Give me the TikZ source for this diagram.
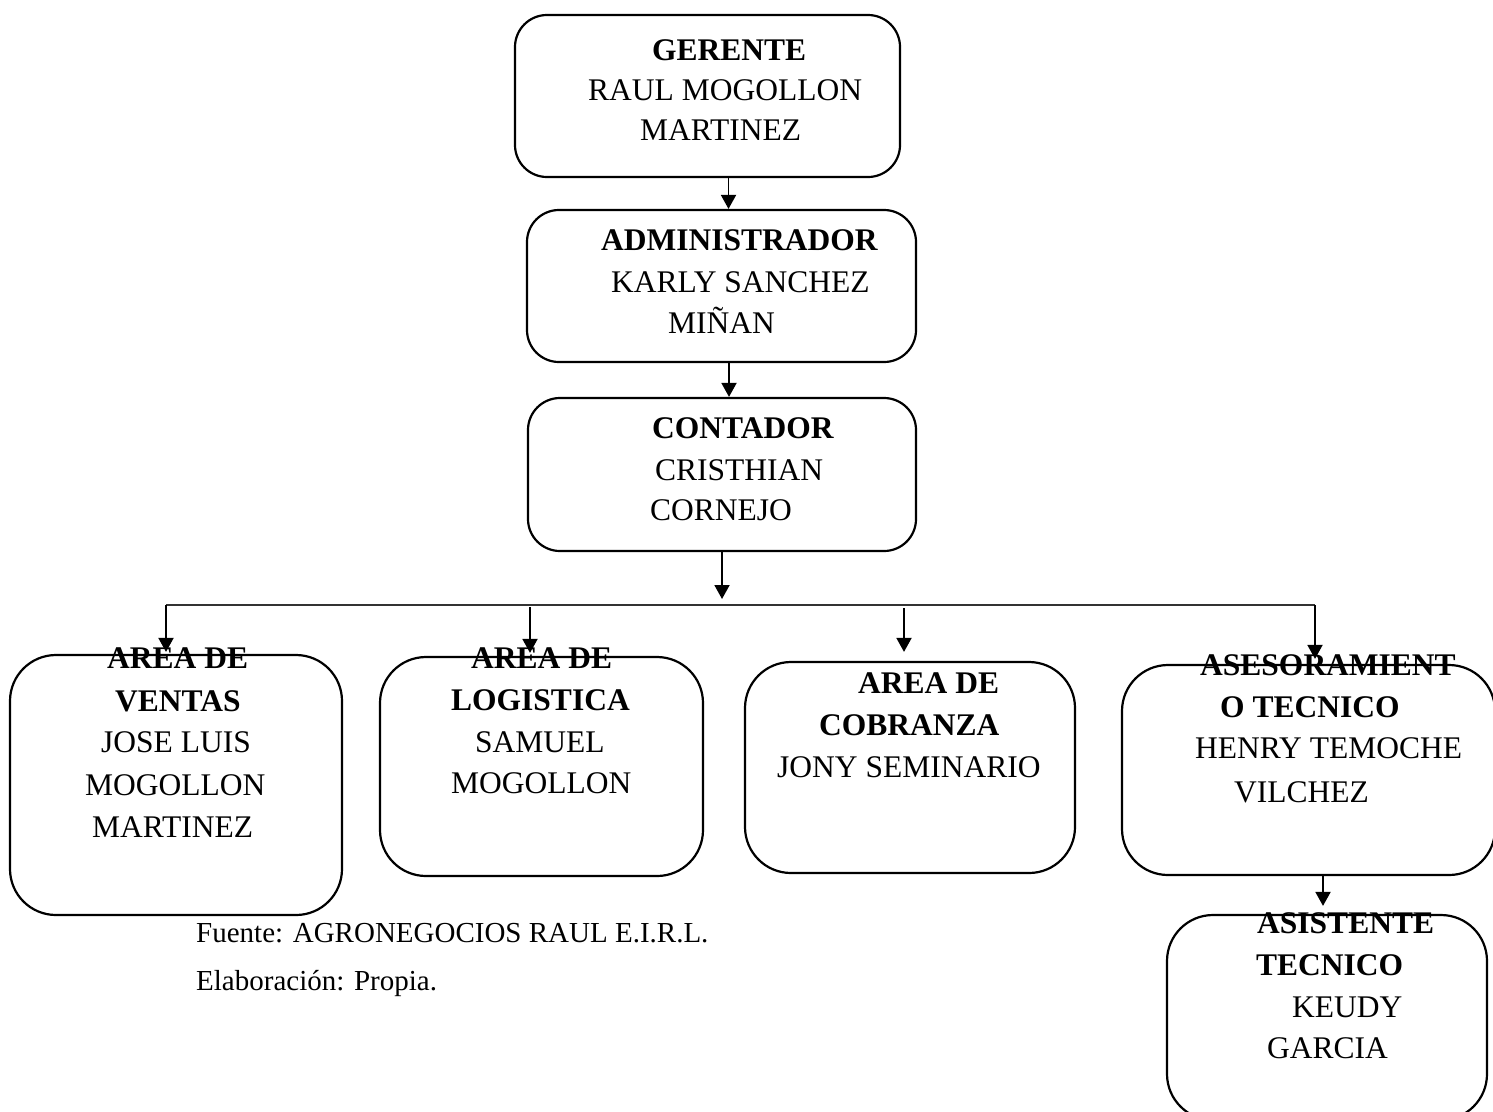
\documentclass[tikz,border=0pt]{standalone}
\usepackage{fontspec}
\setmainfont{Liberation Serif}
\usetikzlibrary{arrows.meta,positioning,calc}
\tikzset{>={Triangle[length=14pt,width=15pt]}}

\begin{document}
\begin{tikzpicture}[x=1pt,y=-1pt,
  box/.style={draw, line width=2.2pt, rounded corners=32pt},
  bigbox/.style={box, rounded corners=46pt},
  txt/.style={anchor=base west, inner sep=0pt, font=\fontsize{31.5}{40}\selectfont},
  head/.style={txt, font=\fontsize{31.5}{40}\selectfont\bfseries},
  note/.style={anchor=base west, inner sep=0pt, font=\fontsize{29}{35}\selectfont},
  arr/.style={->, line width=1.9pt},
  bus/.style={line width=1.5pt, draw=black!80}]
\useasboundingbox (0,0) rectangle (1493,1111);

% boxes
\node[box, minimum width=385pt, minimum height=162pt] (ger) at (707.5,96) {};
\node[box, minimum width=389pt, minimum height=152pt] (adm) at (721.5,286) {};
\node[box, minimum width=388pt, minimum height=153pt] (con) at (722,474.5) {};
\node[bigbox, minimum width=332pt, minimum height=260pt] (ven) at (176,785) {};
\node[bigbox, minimum width=323pt, minimum height=219pt] (log) at (541.5,766.5) {};
\node[bigbox, minimum width=330pt, minimum height=211pt] (cob) at (910,767.5) {};
\node[bigbox, minimum width=373pt, minimum height=210pt] (ase) at (1308.5,770) {};
\node[bigbox, minimum width=320pt, minimum height=205pt] (asi) at (1327,1017.5) {};

% texts
\node[head] (ger1) at (652,60) {GERENTE};
\node[txt]  (ger2) at (588,100) {RAUL MOGOLLON};
\node[txt]  (ger3) at (640,140) {MARTINEZ};
\node[head] (adm1) at (601,250) {ADMINISTRADOR};
\node[txt]  (adm2) at (611,292) {KARLY SANCHEZ};
\node[txt]  (adm3) at (668,333) {MIÑAN};
\node[head] (con1) at (652,438) {CONTADOR};
\node[txt]  (con2) at (655,480) {CRISTHIAN};
\node[txt]  (con3) at (650,520) {CORNEJO};

\node[head] (ven1) at (107,668) {AREA DE};
\node[head] (ven2) at (115,711) {VENTAS};
\node[txt]  (ven3) at (101,752) {JOSE LUIS};
\node[txt]  (ven4) at (85,795) {MOGOLLON};
\node[txt]  (ven5) at (92,837) {MARTINEZ};
\node[head] (log1) at (471,668) {AREA DE};
\node[head] (log2) at (451,710) {LOGISTICA};
\node[txt]  (log3) at (475,752) {SAMUEL};
\node[txt]  (log4) at (451,793) {MOGOLLON};
\node[head] (cob1) at (858,693) {AREA DE};
\node[head] (cob2) at (819,735) {COBRANZA};
\node[txt]  (cob3) at (777,777) {JONY SEMINARIO};
\node[head] (ase1) at (1200,675) {ASESORAMIENT};
\node[head] (ase2) at (1220,717) {O TECNICO};
\node[txt]  (ase3) at (1195,758) {HENRY TEMOCHE};
\node[txt]  (ase4) at (1234,802) {VILCHEZ};
\node[head] (asi1) at (1257,933) {ASISTENTE};
\node[head] (asi2) at (1256,975) {TECNICO};
\node[txt]  (asi3) at (1292,1017) {KEUDY};
\node[txt]  (asi4) at (1267,1058) {GARCIA};

\node[note] (src) at (196,942) {Fuente: AGRONEGOCIOS RAUL E.I.R.L.};
\node[note] (elab) at (196,990) {Elaboración: Propia.};

% connectors
\coordinate (bus) at (722,605);
\coordinate (tapV) at (166,605);
\coordinate (tapL) at (530,607);
\coordinate (tapC) at (904,608);
\coordinate (tapA) at (1315,605);
\draw[arr] ([xshift=21pt]ger.south) -- ([xshift=7pt]adm.north);
\draw[arr] ([xshift=7.5pt]adm.south) -- ([xshift=7pt]con.north);
\draw[arr, shorten >=6pt] (con.south) -- (bus);
\draw[bus] (tapV) -- (tapA);
\draw[arr, shorten >=2pt] (tapV) -- (tapV |- ven.north);
\draw[arr, shorten >=3pt] (tapL) -- (tapL |- log.north);
\draw[arr, shorten >=9pt] (tapC) -- (tapC |- cob.north);
\draw[arr, shorten >=5pt] (tapA) -- (tapA |- ase.north);
\draw[arr, shorten >=8pt] ([xshift=14.5pt]ase.south) -- ([xshift=-4pt]asi.north);
\end{tikzpicture}
\end{document}
